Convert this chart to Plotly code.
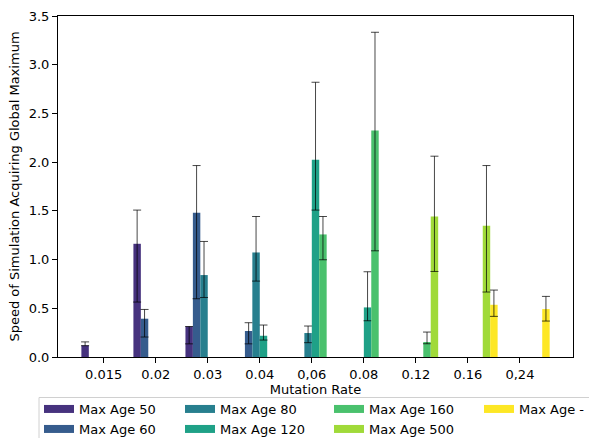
import plotly.graph_objects as go

categories = ['0.015', '0.02', '0.03', '0.04', '0,06', '0.08', '0.12', '0.16', '0,24']
series_names = ['Max Age 50', 'Max Age 60', 'Max Age 80', 'Max Age 120',
                'Max Age 160', 'Max Age 500', 'Max Age -']
colors = ['#46327e', '#365c8d', '#277f8e', '#1fa187', '#4ac16d', '#a0da39', '#fde725']

N = None
age50_mean  = [0.119, 1.162, 0.313, N, N, N, N, N, N]
age50_upper = [0.155, 1.508, 0.313, N, N, N, N, N, N]
age50_lower = [0.116, 0.564, 0.135, N, N, N, N, N, N]

age60_mean  = [N, 0.393, 1.480, 0.267, N, N, N, N, N]
age60_upper = [N, 0.488, 1.965, 0.352, N, N, N, N, N]
age60_lower = [N, 0.205, 0.598, 0.135, N, N, N, N, N]

age80_mean  = [N, N, 0.841, 1.073, 0.246, N, N, N, N]
age80_upper = [N, N, 1.186, 1.442, 0.318, N, N, N, N]
age80_lower = [N, N, 0.611, 0.779, 0.147, N, N, N, N]

age120_mean  = [N, N, N, 0.218, 2.024, 0.509, N, N, N]
age120_upper = [N, N, N, 0.328, 2.820, 0.875, N, N, N]
age120_lower = [N, N, N, 0.174, 1.508, 0.372, N, N, N]

age160_mean  = [N, N, N, N, 1.258, 2.324, 0.154, N, N]
age160_upper = [N, N, N, N, 1.442, 3.333, 0.256, N, N]
age160_lower = [N, N, N, N, 0.998, 1.090, 0.136, N, N]

age500_mean  = [N, N, N, N, N, N, 1.442, 1.347, N]
age500_upper = [N, N, N, N, N, N, 2.061, 1.965, N]
age500_lower = [N, N, N, N, N, N, 0.878, 0.667, N]

agenone_mean  = [N, N, N, N, N, N, N, 0.536, 0.492]
agenone_upper = [N, N, N, N, N, N, N, 0.687, 0.622]
agenone_lower = [N, N, N, N, N, N, N, 0.417, 0.369]

means = [age50_mean, age60_mean, age80_mean, age120_mean, age160_mean, age500_mean, agenone_mean]
uppers = [age50_upper, age60_upper, age80_upper, age120_upper, age160_upper, age500_upper, agenone_upper]
lowers = [age50_lower, age60_lower, age80_lower, age120_lower, age160_lower, age500_lower, agenone_lower]

FONT = 'DejaVu Sans'
W, H = 589, 438
ML, MR, MT, MB = 58, 16, 16, 81
PW, PH = W - ML - MR, H - MT - MB

def px_x(p):
    return (p - ML) / PW

def px_y(p):
    return (H - MB - p) / PH

nser = len(series_names)
bw = 1.0 / nser

fig = go.Figure()
for i, name in enumerate(series_names):
    m, u, l = means[i], uppers[i], lowers[i]
    plus = [None if v is None else uu - v for v, uu in zip(m, u)]
    minus = [None if v is None else v - ll for v, ll in zip(m, l)]
    fig.add_trace(go.Bar(
        x=categories, y=m, name=name,
        width=bw, offset=(i - 3) * bw,
        marker=dict(color=colors[i], line=dict(width=0)),
        error_y=dict(type='data', symmetric=False, array=plus, arrayminus=minus,
                     color='rgba(0,0,0,0.72)', thickness=1, width=4),
        showlegend=False,
    ))

# legend entries laid out column-major in 2 rows, like the original
legend_cols_px = [39, 180, 329, 479]
legend_rows_px = [394, 414]
leg_common = dict(font=dict(family=FONT, size=13, color='black'),
                  bgcolor='rgba(0,0,0,0)', borderwidth=0,
                  xanchor='left', yanchor='top', orientation='v',
                  itemwidth=30, tracegroupgap=0)
layout_legends = {}
for i, name in enumerate(series_names):
    ln = 'legend' if i == 0 else 'legend%d' % (i + 1)
    col, row = i // 2, i % 2
    layout_legends[ln] = dict(x=px_x(legend_cols_px[col]), y=px_y(legend_rows_px[row]), **leg_common)
    fig.add_trace(go.Scatter(
        x=[None], y=[None], mode='lines', name=name,
        line=dict(color=colors[i], width=8),
        legend=ln, showlegend=True,
    ))

fig.update_layout(
    width=W, height=H,
    margin=dict(l=ML, r=MR, t=MT, b=MB, pad=0, autoexpand=False),
    paper_bgcolor='white', plot_bgcolor='white',
    barmode='overlay',
    font=dict(family=FONT, size=13, color='black'),
    **layout_legends,
    shapes=[dict(type='rect', xref='paper', yref='paper',
                 x0=px_x(39), x1=px_x(620), y0=px_y(397.5), y1=px_y(460),
                 line=dict(color='#d0d0d0', width=1), fillcolor='rgba(255,255,255,0.8)',
                 layer='below')],
)
fig.update_xaxes(
    type='category', categoryorder='array', categoryarray=categories,
    range=[-0.878, 9.02], automargin=False,
    showline=True, linecolor='black', linewidth=1, mirror=True,
    ticks='outside', ticklen=5, tickcolor='black', tickwidth=1,
    showgrid=False, zeroline=False,
    tickfont=dict(family=FONT, size=13, color='black'),
    title=dict(text='Mutation Rate', font=dict(family=FONT, size=13, color='black'), standoff=2),
)
fig.update_yaxes(
    range=[0, 3.5], dtick=0.5, tick0=0, tickformat='.1f', automargin=False,
    showline=True, linecolor='black', linewidth=1, mirror=True,
    ticks='outside', ticklen=5, tickcolor='black', tickwidth=1,
    showgrid=False, zeroline=False,
    tickfont=dict(family=FONT, size=13, color='black'),
    title=dict(text='Speed of Simulation Acquiring Global Maximum',
               font=dict(family=FONT, size=13, color='black'), standoff=6),
)

fig.write_html('out.html')
